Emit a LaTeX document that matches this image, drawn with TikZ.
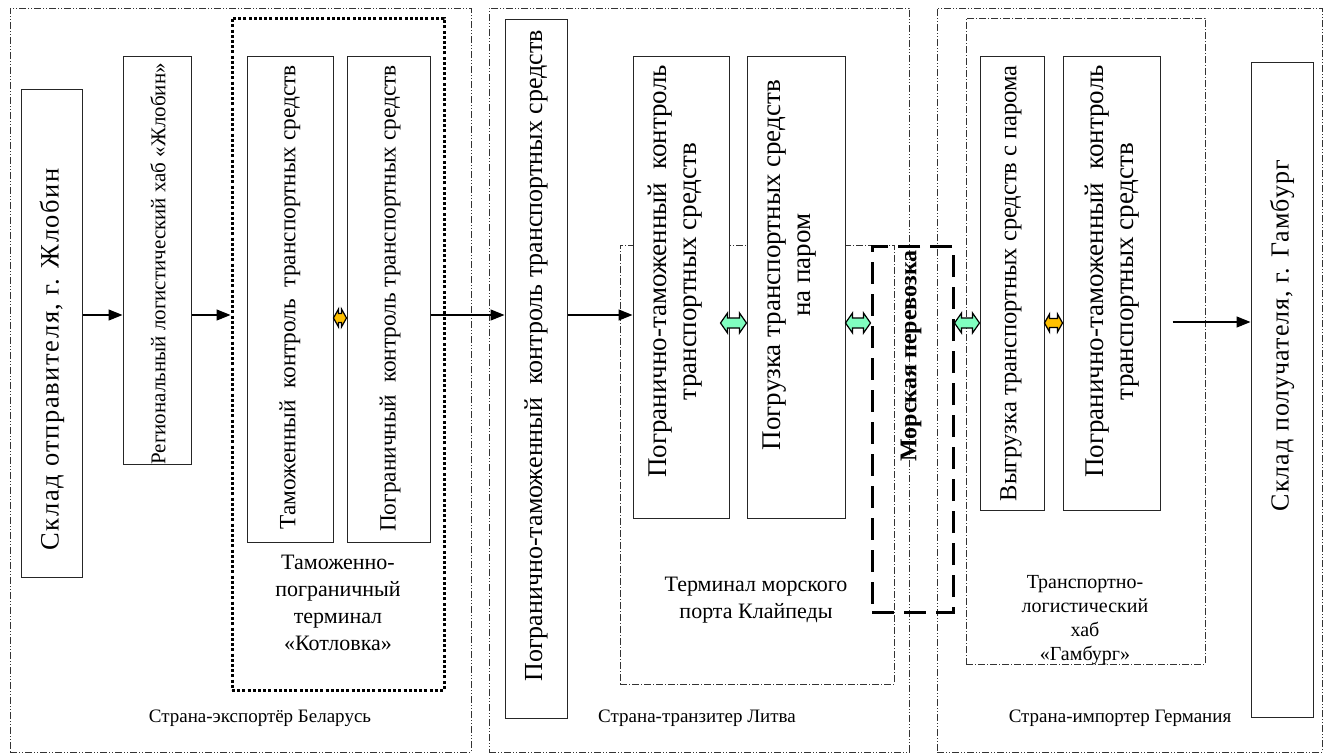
\documentclass[tikz,border=0pt]{standalone}
\usepackage{fontspec}
\setmainfont{Liberation Serif}
\usetikzlibrary{arrows.meta,calc}
\definecolor{mint}{RGB}{128,255,192}
\definecolor{amber}{RGB}{255,192,0}
\newcommand\fatarrow[5]{% left end, right end, fill, head length, half height
  \draw[fatline, fill=#3]
    (#1) -- ($(#1)+(#4,-#5)$) -- ($(#1)+(#4,-0.5*#5)$) -- ($(#2)+(-#4,-0.5*#5)$)
    -- ($(#2)+(-#4,-#5)$) -- (#2) -- ($(#2)+(-#4,#5)$) -- ($(#2)+(-#4,0.5*#5)$)
    -- ($(#1)+(#4,0.5*#5)$) -- ($(#1)+(#4,#5)$) -- cycle;}
\newcommand\fs[1]{\fontsize{#1}{30}\selectfont}
\newcommand\wide[1]{\addfontfeature{LetterSpace=#1}}
\begin{document}
\begin{tikzpicture}[x=1pt,y=-1pt,
  stepbox/.style={draw=black!85, fill=white, line width=1pt, inner sep=0pt},
  country/.style={draw=black!80, line width=0.8pt,
    dash pattern=on 7pt off 2pt on 1pt off 2pt on 1pt off 2pt},
  zone/.style={draw=black!80, line width=0.8pt,
    dash pattern=on 7pt off 2pt on 1pt off 2pt},
  customs/.style={draw=black, line width=3pt, dash pattern=on 3pt off 2.2pt},
  sea/.style={draw=black, line width=3pt, dash pattern=on 22pt off 10pt},
  vtext/.style={rotate=90, inner sep=0pt, align=center, anchor=east,
    font=\fs{22}},
  gtext/.style={inner sep=0pt, align=center,
    font=\fontsize{22}{27}\selectfont},
  ctext/.style={inner sep=0pt, font=\fontsize{19}{22}\selectfont},
  flow/.style={draw=black, line width=1.3pt, -{Triangle[length=14pt,width=11pt]}},
  fatline/.style={draw=black, line width=1.2pt, line join=miter}]
\useasboundingbox (0,0) rectangle (1330,755);
\fill[white] (0,0) rectangle (1330,755);

% country frames
\node[country, minimum width=461pt, minimum height=744pt] (by) at (240.5,380) {};
\node[country, minimum width=420pt, minimum height=744pt] (lt) at (699,380) {};
\node[country, minimum width=385pt, minimum height=744pt] (de) at (1129.5,380) {};

% terminal frames
\node[customs, minimum width=212pt, minimum height=672pt] (kot) at (338,354) {};
\node[zone, minimum width=274pt, minimum height=439pt] (klp) at (757,464.5) {};
\node[zone, minimum width=239pt, minimum height=646pt] (hbg) at (1085.5,341) {};

% process steps
\node[stepbox, minimum width=61pt, minimum height=488pt] (sA) at (51.5,333) {};
\node[stepbox, minimum width=68pt, minimum height=408pt] (sB) at (157,260) {};
\node[stepbox, minimum width=86pt, minimum height=486pt] (sC) at (290,299) {};
\node[stepbox, minimum width=83pt, minimum height=486pt] (sD) at (388.5,299) {};
\node[stepbox, minimum width=62pt, minimum height=699pt] (sE) at (536,368.5) {};
\node[stepbox, minimum width=96pt, minimum height=462pt] (sF) at (681,287) {};
\node[stepbox, minimum width=98pt, minimum height=462pt] (sG) at (796,287) {};
\node[stepbox, minimum width=64pt, minimum height=454pt] (sH) at (1012,283) {};
\node[stepbox, minimum width=97pt, minimum height=454pt] (sI) at (1111.5,283) {};
\node[stepbox, minimum width=62pt, minimum height=655pt] (sJ) at (1282,389.5) {};

% sea leg
\node[sea, minimum width=81pt, minimum height=366pt] (sea) at (912.5,429) {};

% step texts (read bottom to top, ending near the top edge)
\node[vtext, font=\fs{26.5}\wide{6}] (tA) at (52,168) {Склад отправителя, г. Жлобин};
\node[vtext, font=\fs{21}] (tB) at (158,63) {Региональный логистический хаб «Жлобин»};
\node[vtext, font=\fs{23.3}] (tC) at (290,65) {Таможенный\ \ контроль\ \ транспортных средств};
\node[vtext, font=\fs{23.3}] (tD) at (390,65) {Пограничный\ \ контроль транспортных средств};
\node[vtext, font=\fs{26}] (tE) at (536,30) {Погранично-таможенный\ \ контроль транспортных средств};
\node[vtext, font=\fs{27}] (tF) at (675,65) {Погранично-таможенный\ \ контроль\\транспортных средств};
\node[vtext, font=\fs{27}] (tG) at (790,80) {Погрузка транспортных средств\\на паром};
\node[vtext, font=\fs{24.5}] (tH) at (1011,65) {Выгрузка транспортных средств с парома};
\node[vtext, font=\fs{27}] (tI) at (1112,65) {Погранично-таможенный\ \ контроль\\транспортных средств};
\node[vtext, font=\fs{26}\wide{4}] (tJ) at (1282,160) {Склад получателя, г. Гамбург};
\node[vtext, font=\fs{24}\bfseries] (tS) at (911,250) {Морская перевозка};

% terminal labels
\node[gtext] (gK) at (338,603) {Таможенно-\\пограничный\\терминал\\«Котловка»};
\node[gtext] (gL) at (756,600) {Терминал морского\\порта Клайпеды};
\node[gtext, font=\fontsize{20}{24}\selectfont] (gH) at (1085,620) {Транспортно-\\логистический\\хаб\\«Гамбург»};

% country labels
\node[ctext] (cB) at (260,718) {Страна-экспортёр Беларусь};
\node[ctext] (cL) at (697,718) {Страна-транзитер Литва};
\node[ctext] (cG) at (1120,718) {Страна-импортер Германия};

% flow of goods
\draw[flow] (sA.east |- 0,315) -- (sB.west |- 0,315);
\draw[flow] (sB.east |- 0,315) -- (kot.west |- 0,315);
\draw[flow] (sD.east |- 0,315) -- (sE.west |- 0,315);
\draw[flow] (sE.east |- 0,315) -- (sF.west |- 0,315);
\coordinate (hout) at ($(sI.east |- 0,322)+(12,0)$);
\draw[flow] (hout) -- (sJ.west |- 0,322);

% hand-over points
\coordinate (k1) at (sC.east |- 0,318);
\coordinate (k2) at (sD.west |- 0,318);
\fatarrow{k1}{k2}{amber}{5}{9}
\coordinate (p1) at ($(sF.east |- 0,323)+(-9,0)$);
\coordinate (p2) at (sG.west |- 0,323);
\fatarrow{p1}{p2}{mint}{7}{10}
\coordinate (p3) at (sG.east |- 0,323);
\coordinate (p4) at (sea.west |- 0,323);
\fatarrow{p3}{p4}{mint}{7}{10}
\coordinate (p5) at (sea.east |- 0,323);
\coordinate (p6) at (sH.west |- 0,323);
\fatarrow{p5}{p6}{mint}{7}{10}
\coordinate (h1) at (sH.east |- 0,323);
\coordinate (h2) at (sI.west |- 0,323);
\fatarrow{h1}{h2}{amber}{5}{9}
\end{tikzpicture}
\end{document}
